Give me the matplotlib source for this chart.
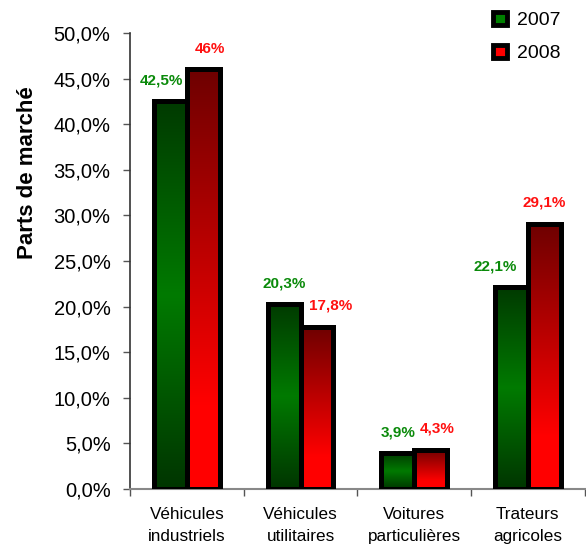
import numpy as np
import matplotlib.pyplot as plt
from matplotlib.colors import LinearSegmentedColormap
from matplotlib.patches import Patch
from matplotlib.ticker import FuncFormatter

plt.rcParams['font.family'] = ['Liberation Sans', 'DejaVu Sans']

categories = ['Véhicules\nindustriels', 'Véhicules\nutilitaires',
              'Voitures\nparticulières', 'Trateurs\nagricoles']
parts_2007 = [42.5, 20.3, 3.9, 22.1]
parts_2008 = [46.0, 17.8, 4.3, 29.1]
labels_2007 = ['42,5%', '20,3%', '3,9%', '22,1%']
labels_2008 = ['46%', '17,8%', '4,3%', '29,1%']

# manual nudges of the value labels (points), like in the original sheet
dx_2007 = [-6.5, 0, 0, -11.5]
dx_2008 = [4.5, 9.5, 5, 0]

green_cmap = LinearSegmentedColormap.from_list(
    'g', [(0, '#003a00'), (0.5, '#007a00'), (1, '#003500')])
red_cmap = LinearSegmentedColormap.from_list(
    'r', [(0, '#6e0000'), (0.8, '#ff0000'), (1, '#ff0000')])

fig = plt.figure(figsize=(5.86, 5.44), dpi=100)
ax = fig.add_axes([0.2218, 0.1011, 0.776, 0.8382])

x = np.arange(len(categories))
w = 0.29
grad = np.linspace(0, 1, 256).reshape(-1, 1)


def gradient_bars(xpos, vals, cmap):
    bars = ax.bar(xpos, vals, w, facecolor='none', edgecolor='black',
                  linewidth=3.6, zorder=3)
    for b in bars:
        x0, y0 = b.get_x(), b.get_y()
        im = ax.imshow(grad, cmap=cmap, aspect='auto', origin='upper',
                       extent=(x0, x0 + b.get_width(), y0, y0 + b.get_height()),
                       zorder=2)
        im.set_clip_path(b)
    return bars


b07 = gradient_bars(x - w / 2, parts_2007, green_cmap)
b08 = gradient_bars(x + w / 2, parts_2008, red_cmap)

for i in range(len(categories)):
    ax.annotate(labels_2007[i], (x[i] - w / 2, parts_2007[i]),
                xytext=(dx_2007[i], 15), textcoords='offset points',
                ha='center', va='center', fontsize=11, fontweight='bold',
                color='#0a8a0a')
    ax.annotate(labels_2008[i], (x[i] + w / 2, parts_2008[i]),
                xytext=(dx_2008[i], 15), textcoords='offset points',
                ha='center', va='center', fontsize=11, fontweight='bold',
                color='#ff1010')

ax.set_xlim(-0.5, 3.5)
ax.set_ylim(0, 50)
ax.set_yticks(np.arange(0, 51, 5))
ax.yaxis.set_major_formatter(FuncFormatter(lambda v, p: f'{v:.1f}%'.replace('.', ',')))
ax.tick_params(axis='y', labelsize=14.5, length=5, width=1, pad=9, color='#555555')

ax.set_xticks(x)
ax.set_xticklabels(categories, fontsize=12.3, linespacing=1.55)
ax.set_xticks(np.arange(-0.5, 3.6, 1), minor=True)
ax.tick_params(axis='x', which='major', length=0, pad=13)
ax.tick_params(axis='x', which='minor', length=5, width=1, color='#555555')

for s in ['top', 'right']:
    ax.spines[s].set_visible(False)
ax.spines['left'].set_color('#333333')
ax.spines['bottom'].set_color('#888888')
ax.spines['left'].set_linewidth(1.2)
ax.spines['bottom'].set_linewidth(1.5)

ax.set_ylabel('Parts de marché', fontsize=16, fontweight='bold')
ax.yaxis.set_label_coords(-0.202, 0.693)

handles = [Patch(facecolor='#008000', edgecolor='black', linewidth=3.5),
           Patch(facecolor='#ff0000', edgecolor='black', linewidth=3.5)]
fig.legend(handles, ['2007', '2008'], loc='upper left',
           bbox_to_anchor=(0.83, 0.991), frameon=False, fontsize=14,
           handlelength=0.7, handleheight=0.7, handletextpad=0.5,
           labelspacing=0.8, borderaxespad=0.1, borderpad=0.25)

fig.savefig('out.png', dpi=100)
